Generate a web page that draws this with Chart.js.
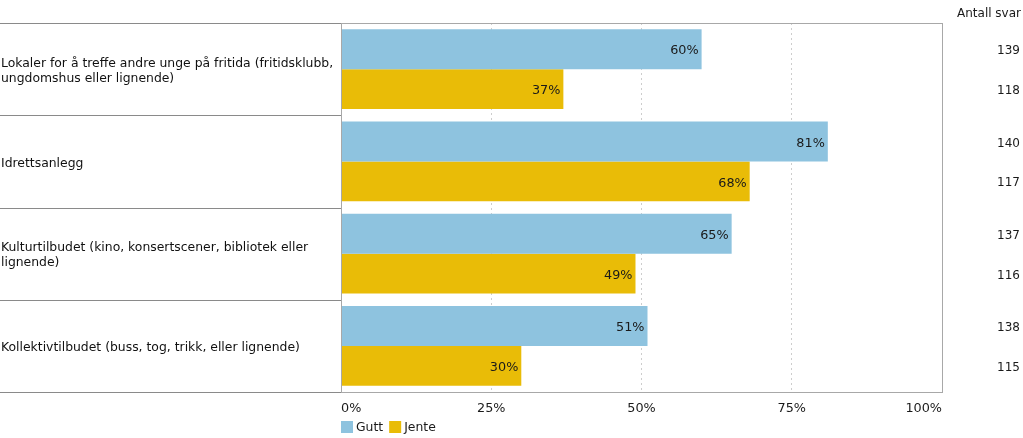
<!DOCTYPE html>
<html><head><meta charset="utf-8">
<script src="https://cdn.jsdelivr.net/npm/chart.js@4.4.0/dist/chart.umd.min.js"></script>
<style>html,body{margin:0;padding:0;background:#fff;}#wrap{width:1023px;height:438px;position:relative;}</style>
</head><body><div id="wrap"><canvas id="c" width="1023" height="438"></canvas></div>
<script>
const categories = [
  ["Lokaler for å treffe andre unge på fritida (fritidsklubb,", "ungdomshus eller lignende)"],
  ["Idrettsanlegg"],
  ["Kulturtilbudet (kino, konsertscener, bibliotek eller", "lignende)"],
  ["Kollektivtilbudet (buss, tog, trikk, eller lignende)"]
];
const seriesNames = ["Gutt", "Jente"];
const guttValues = [60, 81, 65, 51];
const jenteValues = [37, 68, 49, 30];
const guttCounts = [139, 140, 137, 138];
const jenteCounts = [118, 117, 116, 115];
const xTicks = [0, 25, 50, 75, 100];
const countHeader = "Antall svar";

const FONT = "'DejaVu Sans', Verdana, sans-serif";
const COLORS = ["#8EC3DF", "#E9BC07"];
const LINE = "#8a8a8a";
const FRAME = "#a8a8a8";

const tablePlugin = {
  id: 'tablePlugin',
  afterDraw(chart) {
    const ctx = chart.ctx;
    const ca = chart.chartArea;
    const y = chart.scales.y;
    const n = categories.length;
    const rowH = (ca.bottom - ca.top) / n;
    ctx.save();
    ctx.lineWidth = 1;
    ctx.strokeStyle = FRAME;
    ctx.strokeRect(ca.left + 0.5, ca.top + 0.5, ca.right - ca.left, ca.bottom - ca.top);
    ctx.strokeStyle = LINE;
    for (let i = 0; i < n; i++) {
      const c = y.getPixelForValue(i);
      const t = Math.round(c - rowH / 2) + 0.5;
      const b = Math.round(c + rowH / 2) + 0.5;
      ctx.beginPath();
      ctx.moveTo(0, t); ctx.lineTo(ca.left, t);
      ctx.moveTo(0, b); ctx.lineTo(ca.left, b);
      ctx.stroke();
      ctx.fillStyle = "#111";
      ctx.font = "12.4px " + FONT;
      ctx.textAlign = "left";
      ctx.textBaseline = "middle";
      const lines = categories[i];
      const lh = 15;
      const y0 = c + 2 - (lines.length - 1) * lh / 2;
      lines.forEach((ln, k) => ctx.fillText(ln, 1, y0 + k * lh));
    }
    const counts = [guttCounts, jenteCounts];
    chart.data.datasets.forEach((ds, di) => {
      const meta = chart.getDatasetMeta(di);
      meta.data.forEach((bar, i) => {
        ctx.fillStyle = "#1a1a1a";
        ctx.textAlign = "right";
        ctx.textBaseline = "middle";
        ctx.font = "12.8px " + FONT;
        ctx.fillText(ds.data[i] + "%", bar.x - 3, bar.y + 2);
        ctx.font = "12px " + FONT;
        ctx.fillText(String(counts[di][i]), 1020, bar.y + 2);
      });
    });
    ctx.font = "12px " + FONT;
    ctx.fillText(countHeader, 1021, 14);
    let lx = ca.left;
    const ly = 427;
    ctx.textAlign = "left";
    ctx.font = "12.4px " + FONT;
    seriesNames.forEach((name, i) => {
      ctx.fillStyle = COLORS[i];
      ctx.fillRect(lx, ly - 6, 12, 12);
      ctx.fillStyle = "#1a1a1a";
      ctx.fillText(name, lx + 15, ly + 1);
      lx += 15 + ctx.measureText(name).width + 6;
    });
    ctx.restore();
  }
};

new Chart(document.getElementById('c'), {
  type: 'bar',
  data: {
    labels: categories.map(c => c.join(' ')),
    datasets: [
      { label: seriesNames[0], data: guttValues, backgroundColor: COLORS[0] },
      { label: seriesNames[1], data: jenteValues, backgroundColor: COLORS[1] }
    ]
  },
  options: {
    indexAxis: 'y',
    responsive: false,
    animation: false,
    devicePixelRatio: 1,
    layout: { padding: { left: 341, right: 81, top: 23, bottom: 0 } },
    categoryPercentage: 0.867,
    barPercentage: 1,
    plugins: { legend: { display: false }, tooltip: { enabled: false } },
    scales: {
      y: { display: false },
      x: {
        min: 0, max: 100,
        afterBuildTicks: s => { s.ticks = xTicks.map(v => ({ value: v })); },
        afterFit: s => { s.height = 46; },
        ticks: {
          align: 'inner', padding: 9, maxRotation: 0,
          color: '#1a1a1a', font: { family: FONT, size: 12.8 },
          callback: v => v + '%'
        },
        grid: {
          drawTicks: false,
          color: c => (c.tick && (c.tick.value === 0 || c.tick.value === 100)) ? 'rgba(0,0,0,0)' : '#cdcdcd'
        },
        border: { display: false, dash: [2, 3] }
      }
    }
  },
  plugins: [tablePlugin]
});
</script></body></html>
